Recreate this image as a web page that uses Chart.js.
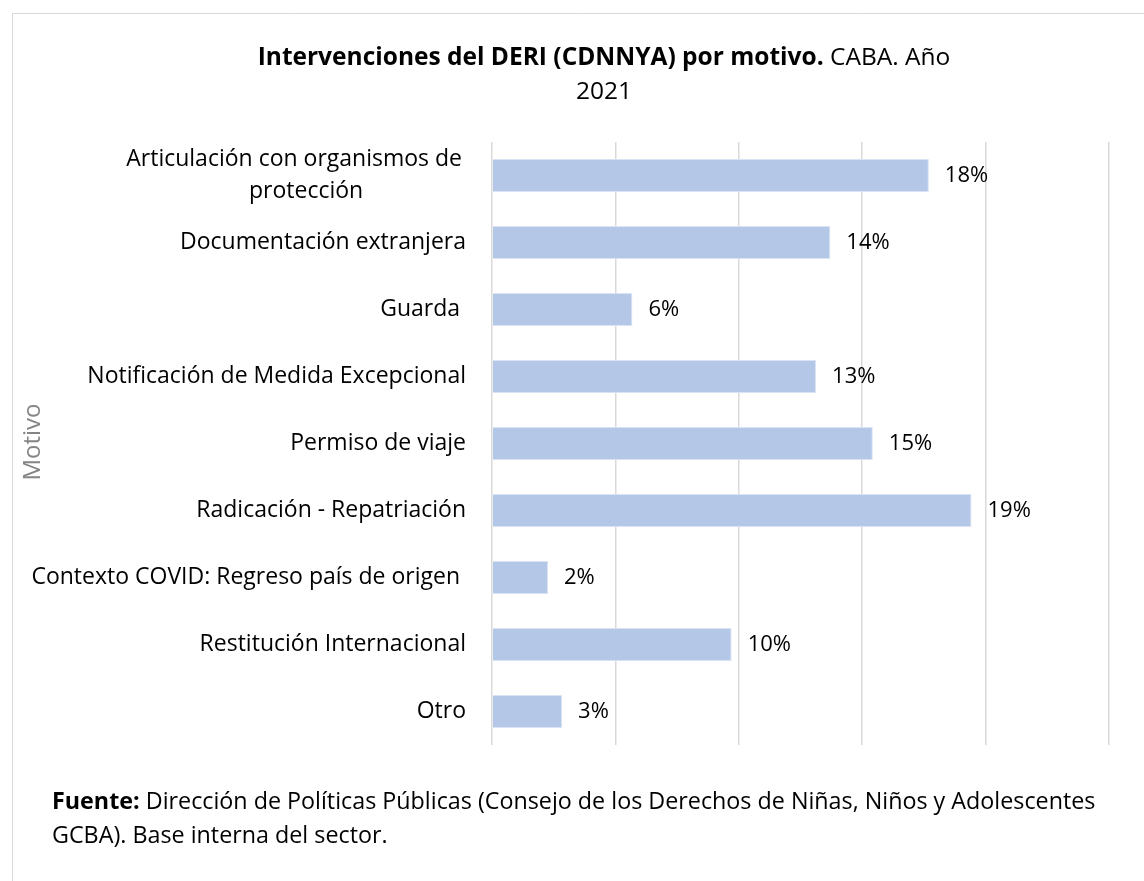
<!DOCTYPE html>
<html>
<head>
<meta charset="utf-8">
<script src="https://cdn.jsdelivr.net/npm/chart.js@4"></script>
<style>
  html, body { margin: 0; padding: 0; background: #ffffff; }
  #wrap { position: relative; width: 1144px; height: 881px; }
  canvas { display: block; }
</style>
</head>
<body>
<div id="wrap"><canvas id="c" width="1144" height="881"></canvas></div>
<script>
// ---- Data ----
const categories = [
  ["Articulación con organismos de", "protección"],
  "Documentación extranjera",
  "Guarda ",
  "Notificación de Medida Excepcional",
  "Permiso de viaje",
  "Radicación - Repatriación",
  "Contexto COVID: Regreso país de origen ",
  "Restitución Internacional",
  "Otro"
];
const percentValues = [17.70, 13.71, 5.69, 13.13, 15.43, 19.43, 2.27, 9.71, 2.84];
const xTickValues = [0, 5, 10, 15, 20, 25];
const titleBold = "Intervenciones del DERI (CDNNYA) por motivo.";
const titleNormal = " CABA. Año";
const titleLine2 = "2021";
const axisTitle = "Motivo";
const footerBold = "Fuente:";
const footerLine1 = " Dirección de Políticas Públicas (Consejo de los Derechos de Niñas, Niños y Adolescentes";
const footerLine2 = "GCBA). Base interna del sector.";

const FONT = '"Open Sans", "Noto Sans", sans-serif';

const decorPlugin = {
  id: 'decor',
  beforeDraw(chart) {
    const ctx = chart.ctx;
    ctx.save();
    ctx.fillStyle = '#ffffff';
    ctx.fillRect(0, 0, chart.width, chart.height);
    // outer frame
    ctx.strokeStyle = '#d9d9d9';
    ctx.lineWidth = 1;
    ctx.beginPath();
    ctx.moveTo(12.5, 881);
    ctx.lineTo(12.5, 13.5);
    ctx.lineTo(1144, 13.5);
    ctx.stroke();
    ctx.restore();
  },
  afterDraw(chart) {
    const ctx = chart.ctx;
    const xs = chart.scales.x;
    const ys = chart.scales.y;
    ctx.save();
    // Title
    ctx.textBaseline = 'middle';
    ctx.fillStyle = '#000000';
    ctx.font = 'bold 24.5px ' + FONT;
    const wb = ctx.measureText(titleBold).width;
    ctx.font = '24.5px ' + FONT;
    const wn = ctx.measureText(titleNormal).width;
    const cx = 604;
    let sx = cx - (wb + wn) / 2;
    ctx.textAlign = 'left';
    ctx.font = 'bold 24.5px ' + FONT;
    ctx.fillText(titleBold, sx, 58);
    ctx.font = '24.5px ' + FONT;
    ctx.fillText(titleNormal, sx + wb, 58);
    ctx.textAlign = 'center';
    ctx.fillText(titleLine2, cx, 92);

    // Category labels
    ctx.font = '23px ' + FONT;
    ctx.fillStyle = '#000000';
    ctx.textAlign = 'center';
    const right = xs.left - 26;
    categories.forEach((lab, i) => {
      const lines = Array.isArray(lab) ? lab : [lab];
      const cy = ys.getPixelForValue(i);
      const maxW = Math.max(...lines.map(l => ctx.measureText(l).width));
      const lh = 32;
      lines.forEach((l, j) => {
        const ly = cy + (j - (lines.length - 1) / 2) * lh;
        let shift = 0;
        if (lines.length > 1) shift = (j > 0 ? 8 : -4);
        ctx.fillText(l, right - maxW / 2 + shift, ly);
      });
    });

    // Value labels
    ctx.textAlign = 'left';
    ctx.fillStyle = '#000000';
    ctx.font = '22px ' + FONT;
    percentValues.forEach((v, i) => {
      const px = xs.getPixelForValue(v);
      const py = ys.getPixelForValue(i);
      ctx.fillText(Math.round(v) + '%', px + 16, py);
    });

    // Axis title
    ctx.save();
    ctx.translate(33, 442);
    ctx.rotate(-Math.PI / 2);
    ctx.textAlign = 'center';
    ctx.fillStyle = '#858585';
    ctx.font = '24px ' + FONT;
    ctx.fillText(axisTitle, 0, 0);
    ctx.restore();

    // Footer
    ctx.textAlign = 'left';
    ctx.fillStyle = '#000000';
    ctx.font = 'bold 23.3px ' + FONT;
    const fb = ctx.measureText(footerBold).width;
    ctx.fillText(footerBold, 52, 802);
    ctx.font = '23.3px ' + FONT;
    ctx.fillText(footerLine1, 52 + fb, 802);
    ctx.fillText(footerLine2, 52, 836);
    ctx.restore();
  }
};

new Chart(document.getElementById('c'), {
  type: 'bar',
  data: {
    labels: categories,
    datasets: [{
      data: percentValues,
      backgroundColor: '#b4c7e7',
      borderColor: '#dae3f3',
      borderWidth: 1,
      categoryPercentage: 1.0,
      barPercentage: 0.49
    }]
  },
  options: {
    indexAxis: 'y',
    responsive: false,
    animation: false,
    layout: { padding: { left: 492, right: 35, top: 142, bottom: 136 } },
    plugins: {
      legend: { display: false },
      title: { display: false },
      tooltip: { enabled: false }
    },
    scales: {
      x: {
        min: xTickValues[0],
        max: xTickValues[xTickValues.length - 1],
        afterBuildTicks(scale) { scale.ticks = xTickValues.map(v => ({ value: v })); },
        ticks: { display: false },
        grid: { color: '#d9d9d9', lineWidth: 1.5, drawTicks: false },
        border: { display: false }
      },
      y: {
        display: false,
        grid: { display: false }
      }
    }
  },
  plugins: [decorPlugin]
});
</script>
</body>
</html>
